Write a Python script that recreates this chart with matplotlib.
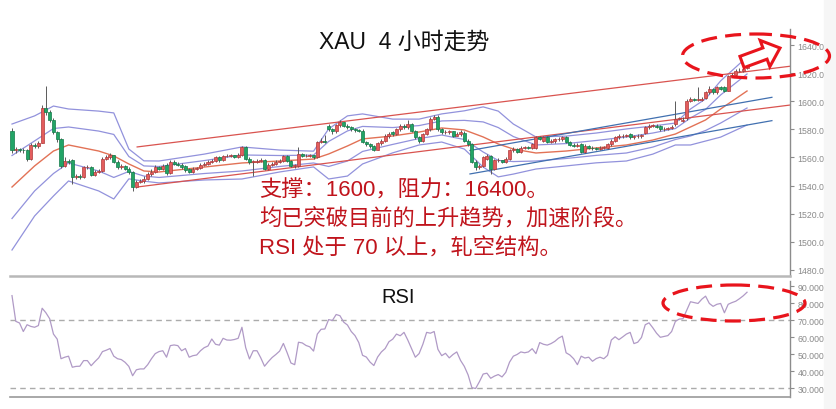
import numpy as np
import matplotlib
matplotlib.use('Agg')
import matplotlib.pyplot as plt
from matplotlib.patches import Ellipse, FancyArrow, Rectangle

plt.rcParams['font.family'] = ['Liberation Sans', 'Noto Sans CJK SC', 'DejaVu Sans']

# ---------------- data ----------------
opens = [1579, 1565, 1566, 1565.5, 1565, 1559, 1569, 1568, 1570.5, 1595,
         1592.5, 1587, 1578, 1573, 1554, 1557.5, 1558, 1546, 1547, 1546,
         1553, 1553, 1547.5, 1550, 1550.5, 1559, 1560, 1561.5, 1557, 1553,
         1554, 1552, 1549.5, 1539, 1542.5, 1543, 1545, 1548, 1550, 1553,
         1552, 1555, 1549, 1557, 1555.5, 1555, 1554, 1551.5, 1550, 1552,
         1552.5, 1555, 1555.5, 1557, 1557.5, 1560, 1558, 1561, 1561, 1561.5,
         1560.5, 1562, 1567.5, 1559, 1557, 1557, 1557.5, 1558, 1552, 1555,
         1555.5, 1557, 1557.5, 1561, 1557.5, 1554, 1554, 1562.5, 1561, 1561,
         1561.5, 1560, 1571, 1572, 1582.5, 1580, 1578.5, 1583, 1585, 1582.5,
         1581.5, 1580, 1579.5, 1579, 1571, 1569.5, 1568, 1565.5, 1570, 1572,
         1575, 1578, 1577, 1580, 1582.5, 1581.5, 1584, 1578.5, 1574.5, 1572,
         1577, 1580, 1587.5, 1589, 1580, 1578, 1578, 1578.5, 1575.5, 1576.5,
         1577.5, 1572, 1569.5, 1557, 1553, 1554, 1559, 1561, 1552, 1558,
         1558, 1557, 1559, 1565, 1566, 1564, 1567, 1567.5, 1567, 1567,
         1574.5, 1572, 1574.5, 1571, 1571.5, 1573, 1573, 1574.5, 1571, 1569,
         1568.5, 1569.5, 1564, 1568.5, 1567, 1566.5, 1566, 1566.5, 1567, 1569.5,
         1572, 1574.5, 1575, 1575.5, 1577, 1574.5, 1575, 1575, 1577.5, 1581.5,
         1582.5, 1582.5, 1582.5, 1580, 1580.5, 1581, 1583.5, 1587.5, 1586, 1588,
         1600.5, 1601.5, 1601, 1601, 1602.5, 1606.5, 1609, 1606.5, 1610, 1610,
         1607.5, 1618, 1619, 1621.5, 1621.5, 1624]
closes = [1565, 1566, 1565.5, 1565, 1559, 1569, 1568, 1570.5, 1595, 1592.5,
          1587, 1578, 1573, 1554, 1557.5, 1557, 1546, 1547, 1546, 1553,
          1553.5, 1547.5, 1550, 1550.5, 1559, 1560, 1561.5, 1557, 1553, 1554,
          1552, 1549.5, 1539, 1542.5, 1543, 1545, 1548, 1550, 1553, 1552,
          1554, 1549, 1557, 1555.5, 1555, 1553, 1551, 1550, 1552, 1552.5,
          1555, 1555.5, 1557, 1557.5, 1560, 1558, 1561, 1561, 1561.5, 1560.5,
          1562, 1567.5, 1559, 1557, 1557, 1557.5, 1558, 1552, 1555, 1555.5,
          1557, 1557.5, 1561, 1557.5, 1554, 1554, 1562.5, 1561, 1561, 1561.5,
          1560, 1571, 1572, 1571, 1580, 1578.5, 1583, 1585, 1582.5, 1581.5,
          1580, 1579.5, 1579, 1571, 1569.5, 1568, 1565.5, 1570, 1572, 1575.5,
          1577, 1576.5, 1580, 1582.5, 1581.5, 1584, 1579, 1574.5, 1572, 1576.5,
          1580, 1587.5, 1588.5, 1580, 1578, 1578, 1578.5, 1575.5, 1576.5, 1578,
          1572, 1569.5, 1557, 1553, 1554, 1560, 1561, 1552, 1558, 1558,
          1557, 1559, 1565, 1566, 1564, 1567, 1567.5, 1567, 1569.5, 1574.5,
          1573.5, 1574.5, 1571, 1571.5, 1573, 1573, 1574.5, 1571, 1569, 1568.5,
          1568.5, 1564, 1568.5, 1567, 1566.5, 1566, 1566.5, 1567.5, 1569.5, 1572,
          1574.5, 1575, 1575.5, 1576, 1574.5, 1575, 1575, 1576, 1581.5, 1582.5,
          1582.5, 1582, 1580, 1580.5, 1581, 1582, 1587.5, 1587.5, 1587, 1600.5,
          1601.5, 1601, 1601, 1601.5, 1606.5, 1609, 1606.5, 1610, 1609, 1607.5,
          1618, 1618, 1621.5, 1621.5, 1623, 1631]
highs = [1581, 1567.5, 1567, 1567, 1566, 1570, 1570.5, 1572, 1597, 1611,
         1594, 1588, 1579, 1574, 1560, 1559, 1559, 1548.5, 1548, 1554,
         1555, 1554, 1551, 1552, 1560.5, 1562, 1563.5, 1562, 1558, 1555.5,
         1555, 1553, 1550.5, 1544, 1544.5, 1546.5, 1549.5, 1551.5, 1554.5, 1554,
         1555.5, 1556, 1558, 1558.5, 1557, 1556, 1555, 1552.5, 1553, 1553.5,
         1556, 1557, 1558, 1559, 1561, 1561, 1562, 1562.5, 1562.5, 1562,
         1563, 1568.5, 1568, 1560, 1558.5, 1559, 1559.5, 1559, 1556, 1557,
         1558, 1559, 1562, 1561.5, 1558, 1555.5, 1567.5, 1563.5, 1562.5, 1562.5,
         1562, 1572, 1574, 1576, 1583.5, 1581, 1584, 1586.5, 1585.5, 1583.5,
         1582.5, 1581, 1580.5, 1580, 1572, 1570.5, 1569, 1571, 1573, 1576.5,
         1578, 1579, 1581, 1583.5, 1583.5, 1586.5, 1584.5, 1579.5, 1575.5, 1577.5,
         1581, 1588.5, 1590, 1590, 1581, 1579.5, 1579.5, 1579, 1578, 1579.5,
         1578.5, 1573, 1570.5, 1558, 1555.5, 1561, 1562.5, 1562, 1559, 1559.5,
         1558.5, 1560, 1566, 1567.5, 1567, 1568, 1568.5, 1568.5, 1570.5, 1575.5,
         1575.5, 1575.5, 1575, 1573, 1574, 1574.5, 1575.5, 1575, 1572, 1570,
         1570, 1570.5, 1569.5, 1569, 1568, 1567.5, 1568, 1568.5, 1570.5, 1573,
         1575.5, 1576.5, 1577, 1577, 1577.5, 1576, 1576.5, 1577, 1582.5, 1584,
         1584, 1583.5, 1583, 1582, 1582, 1583, 1600.5, 1589, 1588.5, 1601.5,
         1603, 1602.5, 1610, 1603, 1607.5, 1610.5, 1609.5, 1611, 1611, 1611,
         1619, 1620, 1623, 1624, 1624.5, 1632.5]
lows = [1563, 1563.5, 1564, 1563.5, 1557.5, 1558, 1566.5, 1567, 1570, 1590,
        1585.5, 1576.5, 1571, 1552.5, 1553, 1555.5, 1541, 1545, 1544.5, 1545.5,
        1552, 1546.5, 1546.5, 1549, 1549.5, 1558, 1559, 1556, 1552, 1552,
        1551, 1548.5, 1536, 1538, 1541.5, 1542, 1544, 1547, 1549, 1551,
        1551, 1547.5, 1548, 1554.5, 1554, 1552, 1550, 1549, 1549, 1551,
        1551.5, 1554, 1554.5, 1556, 1556.5, 1557, 1557.5, 1560, 1560, 1559.5,
        1559.5, 1561, 1558, 1555.5, 1547, 1556, 1556.5, 1551, 1551, 1554,
        1554.5, 1556, 1556.5, 1556.5, 1553, 1552.5, 1553.5, 1560, 1560, 1560,
        1559, 1559.5, 1570, 1570, 1579, 1577, 1577.5, 1582, 1581.5, 1580.5,
        1579, 1578, 1578, 1570, 1568.5, 1567, 1564.5, 1565, 1569, 1571,
        1574, 1575.5, 1576, 1579, 1580.5, 1580.5, 1578, 1573, 1570.5, 1571,
        1576, 1579, 1586.5, 1579, 1577, 1576.5, 1577, 1574.5, 1575, 1575.5,
        1571, 1568.5, 1556, 1551, 1552, 1553, 1558, 1548, 1551, 1557,
        1556, 1556, 1558, 1564, 1563, 1563, 1566, 1566, 1566, 1566,
        1572.5, 1571, 1570, 1570, 1570.5, 1572, 1572, 1570, 1568, 1567.5,
        1567.5, 1563, 1563, 1566, 1565.5, 1565, 1565, 1566, 1566, 1568.5,
        1571, 1573.5, 1574, 1574.5, 1573.5, 1573.5, 1574, 1574, 1576.5, 1580.5,
        1581.5, 1581, 1579, 1579, 1579.5, 1580.5, 1582.5, 1586.5, 1585, 1587,
        1599.5, 1600, 1600, 1600.5, 1601.5, 1605.5, 1605.5, 1605.5, 1608, 1606.5,
        1607, 1617, 1618, 1620.5, 1620.5, 1623]
rsi = [84.6, 69.5, 68.5, 63.5, 67.5, 66.5, 66, 67, 77.2, 74.5,
       71, 62, 59, 47.5, 48.4, 49, 42.5, 43, 43.1, 46.4,
       46.4, 43.4, 45.8, 48, 51.7, 52.5, 53.5, 49, 47.5, 47,
       45.4, 43, 37.5, 41, 41.5, 41.5, 44, 47.5, 50.5, 51.7,
       52.2, 48.4, 55.2, 55.6, 55.2, 52.2, 53.5, 48.4, 49.3, 49.7,
       52.2, 54, 55, 59.1, 56, 55.5, 59.5, 58.5, 58.4, 58.8,
       59.5, 66, 54, 47.4, 52.2, 52.2, 48, 43.1, 45.8, 48.2,
       50, 52, 56.5, 51, 45, 44, 57.2, 56.8, 55.3, 54.5,
       52, 62, 64.8, 65, 70.5, 70, 73.5, 72.8, 69, 67.3,
       63.5, 61.1, 57, 49.5, 48.5, 45.5, 43.5, 48.5, 51.5, 53.5,
       57.5, 59, 62, 61, 63, 58.5, 53.5, 48.4, 50.5, 56,
       63, 62.5, 63.5, 53, 49.3, 50.7, 48, 50, 51.5, 46.5,
       43, 38, 30.5, 30, 34, 38.5, 39, 36, 37.3, 38.2,
       36.8, 39.5, 45.5, 49, 50, 51.5, 51, 51.5, 53.4, 50.5,
       57, 56, 55.5, 56.4, 57.7, 59.6, 60.8, 51, 49.7, 47.5,
       44, 49, 47.9, 48.4, 46, 47.6, 48.4, 47.5, 49.5, 58.5,
       60.4, 58.7, 60.3, 62, 63, 56.4, 57.2, 60, 67.5, 68.6,
       65.7, 62.5, 60.1, 60.6, 61.1, 63.5, 69.5, 70.8, 71, 76,
       81, 80.5, 80, 82.5, 84.3, 80, 78.3, 79.5, 80, 74.5,
       79.5, 80.5, 81.3, 82.8, 84.5, 86.6]

# Bollinger band readings (candle index, middle line, one standard deviation)
band_idx = [0, 6, 11, 15, 23, 27, 31, 35, 39, 51, 61, 71, 80, 84, 89, 93, 101,
            108, 114, 120, 125, 129, 133, 139, 147, 155, 163, 170, 176, 180,
            184, 188, 195]
band_mid = [1539.0, 1554.0, 1564.6, 1568.9, 1564.6, 1561.1, 1555.4, 1550.4,
            1549.7, 1553.2, 1556.1, 1557.5, 1558.9, 1562.5, 1568.2, 1573.2,
            1575.3, 1578.1, 1581.0, 1579.6, 1574.6, 1569.6, 1566.0, 1563.2,
            1564.6, 1566.8, 1568.9, 1572.4, 1576.7, 1581.7, 1586.7, 1594.5,
            1607.3]
band_sd = [22.4, 17.8, 16.0, 12.8, 14.2, 15.3, 5.3, 3.6, 3.9, 4.6, 5.7, 3.9,
           2.8, 8.9, 10.7, 8.9, 6.0, 4.6, 5.0, 6.8, 10.7, 11.7, 8.9, 5.7, 5.3,
           5.3, 5.7, 5.0, 3.9, 6.4, 7.5, 10.0, 12.1]

# trend channels (start / end candle index and prices)
red_idx = [33.2, 206.4]
red_upper = [1567.5, 1624.9]
red_lower = [1539.0, 1597.3]
blue_idx = [121.5, 201.6]
blue_upper = [1565.0, 1602.8]
blue_lower = [1548.3, 1586.2]

price_ticks = [1480, 1500, 1520, 1540, 1560, 1580, 1600, 1620, 1640]
rsi_ticks = [30, 40, 50, 60, 70, 80, 90]
rsi_levels = [70, 30]

title = 'XAU  4 小时走势'
notes = ['支撑：1600，阻力：16400。',
         '均已突破目前的上升趋势，加速阶段。',
         'RSI 处于 70 以上，轧空结构。']
rsi_label = 'RSI'

# ---------------- figure ----------------
W, H = 837, 410
fig = plt.figure(figsize=(W / 100, H / 100), dpi=100)
fig.patch.set_facecolor('white')


def frame(l, t, r, b):
    return [l / W, 1 - b / H, (r - l) / W, (b - t) / H]


ax = fig.add_axes(frame(10, 30, 790, 277))
rx = fig.add_axes(frame(10, 282, 790, 398))

o = np.array(opens, float)
c = np.array(closes, float)
hi = np.array(highs, float)
lo = np.array(lows, float)
x = np.arange(len(c))

# bands
bi = np.array(band_idx)
bm = np.array(band_mid)
bs = np.array(band_sd)
band_col = '#9292dc'
for k in (2, 1, -1, -2):
    ax.plot(bi, bm + k * bs, color=band_col, lw=0.9, zorder=2)
ax.plot(bi, bm, color='#e27256', lw=1.0, zorder=2)

# channels
ax.plot(red_idx, red_upper, color='#d9534f', lw=0.9, zorder=2)
ax.plot(red_idx, red_lower, color='#d9534f', lw=0.9, zorder=2)
ax.plot(blue_idx, blue_upper, color='#4170b0', lw=0.9, zorder=2)
ax.plot(blue_idx, blue_lower, color='#4170b0', lw=0.9, zorder=2)

# candles
ax.vlines(x, lo, hi, color='#5a5a5a', lw=0.7, zorder=3)
up = c >= o
bottom = np.minimum(o, c)
height = np.maximum(np.abs(c - o), 0.35)
ax.bar(x[up], height[up], bottom=bottom[up], width=0.8, color='#e35d5d',
       edgecolor='#b03a3a', lw=0.5, zorder=4)
ax.bar(x[~up], height[~up], bottom=bottom[~up], width=0.8, color='#22a466',
       edgecolor='#137a48', lw=0.5, zorder=4)

xlim = (-0.53, 206.4)
ax.set_xlim(*xlim)
ax.set_ylim(1475.7, 1651.4)

for a in (ax, rx):
    a.spines['top'].set_visible(False)
    a.spines['left'].set_visible(False)
    a.spines['right'].set_color('#8c8c8c')
    a.spines['right'].set_linewidth(1.0)
    a.set_xticks([])
    a.yaxis.tick_right()
    a.tick_params(axis='y', direction='out', length=3, width=0.8,
                  colors='#8c8c8c', labelsize=6.3, pad=2.5)
ax.spines['bottom'].set_color('#b8b8b8')
ax.spines['bottom'].set_linewidth(1.8)
rx.spines['bottom'].set_color('#9a9a9a')
rx.spines['bottom'].set_linewidth(1.2)

ax.set_yticks(price_ticks)
ax.set_yticklabels([f'{v:.2f}' for v in price_ticks], color='#8a8a8a')

# RSI
rx.plot(x, rsi, color='#b09ac6', lw=0.9, zorder=3)
for lv in rsi_levels:
    rx.axhline(lv, color='#ababab', lw=1.0, ls=(0, (4, 3)), zorder=2)
rx.set_xlim(*xlim)
rx.set_ylim(25, 93.2)
rx.set_yticks(rsi_ticks)
rx.set_yticklabels([f'{v:.4f}' for v in rsi_ticks], color='#8a8a8a')

# ---------------- overlay (pixel coordinates) ----------------
ov = fig.add_axes([0, 0, 1, 1], zorder=5)
ov.set_xlim(0, W)
ov.set_ylim(H, 0)
ov.axis('off')
ov.patch.set_alpha(0)

ov.add_patch(Rectangle((824, 0), W - 824, H, color='#f6f6f6', zorder=1))

red = '#e8141c'
ov.add_patch(Ellipse((756, 57), 147, 44, fill=False, ec=red, lw=2.3,
                     ls=(0, (5, 2.6)), zorder=3))
ov.add_patch(Ellipse((734, 304), 142, 36, fill=False, ec=red, lw=2.3,
                     ls=(0, (5, 2.6)), zorder=3))
ov.add_patch(FancyArrow(742, 63, 38, -14, width=12, head_width=28,
                        head_length=16, length_includes_head=True,
                        fc='white', ec=red, lw=2.2, zorder=4))

ov.text(404, 42, title, ha='center', va='center', fontsize=16.5,
        color='#111111', zorder=4)
ov.text(398, 298, rsi_label, ha='center', va='center', fontsize=14.5,
        color='#111111', zorder=4)
for k, line in enumerate(notes):
    ov.text(259, 191 + 29 * k, line, ha='left', va='center', fontsize=16,
            color='#c0141c', zorder=4)

fig.savefig('out.png', dpi=100)
